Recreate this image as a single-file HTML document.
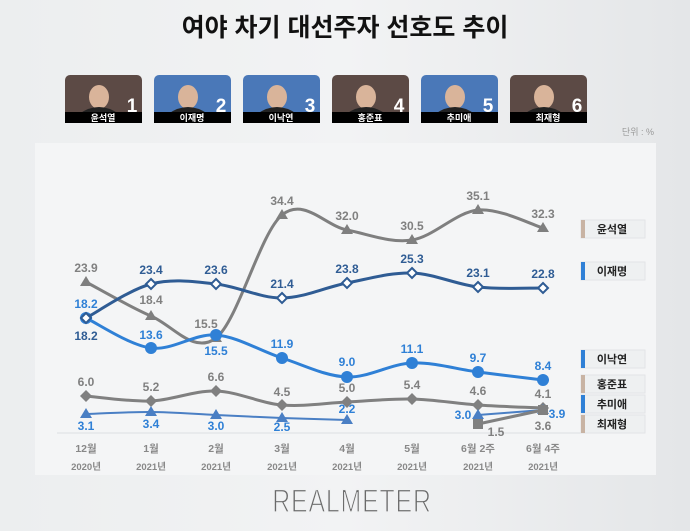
<!DOCTYPE html><html><head><meta charset="utf-8"><style>
body{margin:0;width:690px;height:526px;overflow:hidden;background:linear-gradient(90deg,#eceeef,#f2f3f4 50%,#e4e6e8);font-family:"Liberation Sans","Noto Sans CJK KR",sans-serif;}
</style></head><body>
<svg id="s" width="690" height="526" xmlns="http://www.w3.org/2000/svg" font-family="Liberation Sans, Noto Sans CJK KR, sans-serif">
<text x="345" y="36" text-anchor="middle" font-size="25" font-weight="bold" fill="#111">여야 차기 대선주자 선호도 추이</text>
<rect x="35" y="143" width="621" height="332" fill="#f4f5f6"/>
<line x1="57" y1="433" x2="630" y2="433" stroke="#dcdfe2"/>
<text x="654" y="135" text-anchor="end" font-size="9" fill="#999">단위 : %</text>
<g id="photos"></g><g id="lines"></g><g id="leg"></g>
<text transform="translate(352,512) scale(0.78,1)" text-anchor="middle" font-size="32" fill="#6a6a6a" stroke="#f0f1f2" stroke-width="1.2" letter-spacing="1">REALMETER</text>
</svg>
<script>
const NS="http://www.w3.org/2000/svg",s=document.getElementById('s');
function el(t,a,txt,p){const e=document.createElementNS(NS,t);for(const k in a)e.setAttribute(k,a[k]);if(txt!=null)e.textContent=txt;(p||s).appendChild(e);return e;}
const names=['윤석열','이재명','이낙연','홍준표','추미애','최재형'],bg=['#5c4a45','#4a78b8','#4a78b8','#5c4a45','#4a78b8','#5c4a45'];
names.forEach((n,i)=>{const x=65+i*89;el('rect',{x:x,y:75,width:77,height:48,rx:5,fill:bg[i]});
el('ellipse',{cx:x+34,cy:97,rx:10,ry:12,fill:'#d9b49a'});el('path',{d:`M${x+14} 114 Q${x+34} 100 ${x+54} 114Z`,fill:'#222'});
el('rect',{x:x,y:112,width:77,height:11,fill:'#000'});el('text',{x:x+38,y:121,'text-anchor':'middle','font-size':9,'font-weight':'bold',fill:'#fff'},n);
el('text',{x:x+67,y:112,'text-anchor':'middle','font-size':19,'font-weight':'bold',fill:'#fff'},i+1);});
const X=[86,151,216,282,347,412,478,543];
const months=['12월','1월','2월','3월','4월','5월','6월 2주','6월 4주'],yrs=['2020년','2021년','2021년','2021년','2021년','2021년','2021년','2021년'];
X.forEach((x,i)=>{el('text',{x:x,y:452,'text-anchor':'middle','font-size':10.5,fill:'#888','font-weight':'bold'},months[i]);el('text',{x:x,y:470,'text-anchor':'middle','font-size':9.5,fill:'#888','font-weight':'bold'},yrs[i]);});
function path(pts){let d=`M${pts[0][0]} ${pts[0][1]}`;for(let i=0;i<pts.length-1;i++){const p0=pts[i-1]||pts[i],p1=pts[i],p2=pts[i+1],p3=pts[i+2]||p2;const t=0.5/3;d+=` C${p1[0]+(p2[0]-p0[0])*t} ${p1[1]+(p2[1]-p0[1])*t} ${p2[0]-(p3[0]-p1[0])*t} ${p2[1]-(p3[1]-p1[1])*t} ${p2[0]} ${p2[1]}`;}return d;}
function mark(m,x,y,c){if(m=='tri')el('path',{d:`M${x} ${y-6}L${x+6} ${y+4}L${x-6} ${y+4}Z`,fill:c});
else if(m=='dia')el('path',{d:`M${x} ${y-6}L${x+6} ${y}L${x} ${y+6}L${x-6} ${y}Z`,fill:c});
else if(m=='odia')el('path',{d:`M${x} ${y-5}L${x+5} ${y}L${x} ${y+5}L${x-5} ${y}Z`,fill:'#fff',stroke:c,'stroke-width':2});
else if(m=='cir')el('circle',{cx:x,cy:y,r:6,fill:c});else el('rect',{x:x-5,y:y-5,width:10,height:10,fill:c});}
const S=[
{c:'#7f7f7f',m:'tri',w:3,p:[[86,282],[151,316],[216,338],[282,215],[347,230],[412,240],[478,210],[543,228]],l:[['23.9',86,272],['18.4',151,304],['15.5',206,328],['34.4',282,205],['32.0',347,220],['30.5',412,230],['35.1',478,200],['32.3',543,218]],lc:'#808080'},
{c:'#2f80d6',m:'cir',w:3,p:[[86,318],[151,348],[216,335],[282,358],[347,377],[412,363],[478,372],[543,380]],l:[['18.2',86,308],['13.6',151,339],['15.5',216,355],['11.9',282,348],['9.0',347,366],['11.1',412,353],['9.7',478,362],['8.4',543,370]],lc:'#2f80d6'},
{c:'#2f5c94',m:'odia',w:3,p:[[86,318],[151,284],[216,284],[282,298],[347,283],[412,273],[478,287],[543,288]],l:[['18.2',86,340],['23.4',151,274],['23.6',216,274],['21.4',282,288],['23.8',347,273],['25.3',412,263],['23.1',478,277],['22.8',543,278]],lc:'#2f5c94'},
{c:'#808080',m:'dia',w:3,p:[[86,396],[151,401],[216,391],[282,405],[347,402],[412,399],[478,405],[543,408]],l:[['6.0',86,386],['5.2',151,391],['6.6',216,381],['4.5',282,396],['5.0',347,392],['5.4',412,389],['4.6',478,395],['4.1',543,398]],lc:'#808080'},
{c:'#4a7fc4',m:'tri',w:2,p:[[86,414],[151,412],[216,415],[282,418],[347,420]],l:[['3.1',86,430],['3.4',151,428],['3.0',216,430],['2.5',282,431],['2.2',347,413]],lc:'#2f80d6'},
{c:'#4a7fc4',m:'tri',w:2,p:[[478,415],[543,410]],l:[['3.0',463,419],['3.9',557,418]],lc:'#2f80d6'},
{c:'#808080',m:'sq',w:3,p:[[478,424],[543,410]],l:[['1.5',496,436],['3.6',543,430]],lc:'#808080'}];
S.forEach(o=>{el('path',{d:path(o.p),fill:'none',stroke:o.c,'stroke-width':o.w});o.p.forEach(q=>mark(o.m,q[0],q[1],o.c));
o.l.forEach(q=>el('text',{x:q[1],y:q[2],'text-anchor':'middle','font-size':12,'font-weight':'bold',fill:o.lc},q[0]));});
const L=[['윤석열',229,'#c8b3a3'],['이재명',271,'#2f80d6'],['이낙연',359,'#2f80d6'],['홍준표',384,'#c8b3a3'],['추미애',404,'#2f80d6'],['최재형',424,'#c8b3a3']];
L.forEach(q=>{el('rect',{x:581,y:q[1]-9,width:64,height:18,fill:'#eef0f1',stroke:'#e2e4e6'});el('rect',{x:581,y:q[1]-9,width:4,height:18,fill:q[2]});
el('text',{x:612,y:q[1]+4,'text-anchor':'middle','font-size':11,'font-weight':'bold',fill:'#222'},q[0]);});
</script></body></html>
